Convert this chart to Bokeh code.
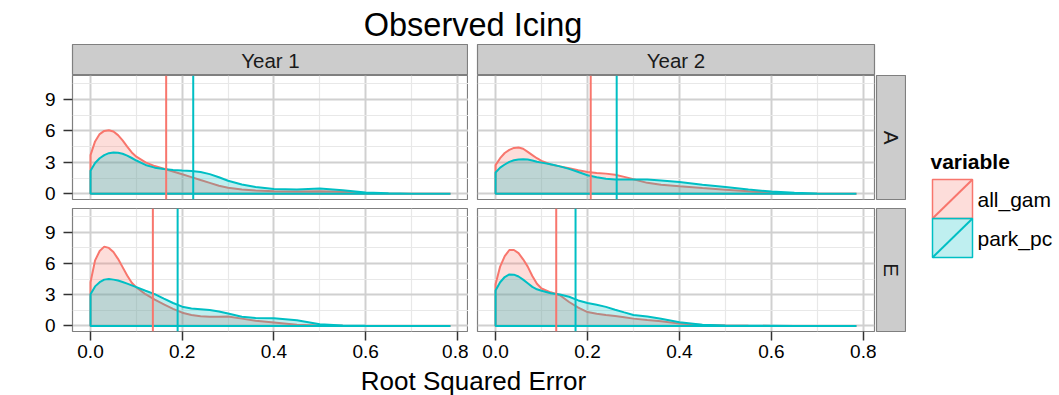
import numpy as np
from bokeh.plotting import figure
from bokeh.models import Range1d, FixedTicker, LinearAxis, Grid, NumeralTickFormatter, Span, Spacer
from bokeh.layouts import row, column
from bokeh.embed import file_html
from bokeh.resources import INLINE
from bokeh.core.properties import value

# ---------------- data ----------------
rse = [0.0, 0.01, 0.02, 0.03, 0.04, 0.05, 0.06, 0.07, 0.08, 0.09, 0.10, 0.12, 0.14,
       0.16, 0.18, 0.20, 0.22, 0.24, 0.26, 0.28, 0.30, 0.33, 0.36, 0.40, 0.45,
       0.50, 0.55, 0.60, 0.65, 0.70, 0.785]
years = ["Year 1", "Year 2"]
stations = ["A", "E"]
variables = ["all_gam", "park_pc"]

dens_y1_a_all_gam = [3.7, 5.0, 5.7, 6.0, 6.07, 5.95, 5.6, 5.1, 4.5, 3.95, 3.55, 3.0, 2.65,
                     2.4, 2.13, 1.87, 1.6, 1.32, 1.05, 0.78, 0.58, 0.42, 0.33, 0.26, 0.22,
                     0.25, 0.2, 0.06, 0.02, 0.01, 0.0]
dens_y1_a_park_pc = [2.2, 2.95, 3.4, 3.7, 3.88, 3.95, 3.92, 3.82, 3.65, 3.42, 3.18, 2.76, 2.5,
                     2.37, 2.28, 2.22, 2.17, 2.08, 1.88, 1.58, 1.25, 0.9, 0.65, 0.46, 0.42,
                     0.5, 0.35, 0.13, 0.05, 0.02, 0.0]
dens_y2_a_all_gam = [2.74, 3.4, 3.9, 4.2, 4.38, 4.42, 4.3, 4.0, 3.7, 3.4, 3.15, 2.8, 2.62,
                     2.45, 2.25, 2.08, 1.98, 1.93, 1.82, 1.62, 1.4, 1.05, 0.86, 0.72, 0.55,
                     0.4, 0.25, 0.12, 0.04, 0.01, 0.0]
dens_y2_a_park_pc = [2.04, 2.5, 2.8, 3.05, 3.2, 3.28, 3.31, 3.27, 3.18, 3.06, 2.98, 2.82, 2.62,
                     2.38, 2.08, 1.78, 1.58, 1.45, 1.38, 1.37, 1.37, 1.37, 1.28, 1.12, 0.88,
                     0.65, 0.42, 0.22, 0.1, 0.03, 0.0]
dens_y1_e_all_gam = [4.2, 6.3, 7.2, 7.62, 7.5, 7.1, 6.45, 5.65, 4.85, 4.15, 3.7, 3.05, 2.52,
                     2.08, 1.64, 1.27, 1.05, 0.93, 0.87, 0.88, 0.9, 0.7, 0.5, 0.33, 0.1,
                     0.03, 0.01, 0.0, 0.0, 0.0, 0.0]
dens_y1_e_park_pc = [3.05, 3.8, 4.2, 4.45, 4.5, 4.45, 4.36, 4.22, 4.07, 3.9, 3.73, 3.38, 3.05,
                     2.62, 2.2, 1.85, 1.67, 1.6, 1.52, 1.38, 1.2, 0.88, 0.75, 0.74, 0.55,
                     0.15, 0.04, 0.01, 0.0, 0.0, 0.0]
dens_y2_e_all_gam = [4.0, 5.7, 6.7, 7.3, 7.3, 7.0, 6.4, 5.7, 4.8, 4.05, 3.6, 3.23, 2.95,
                     2.3, 1.75, 1.33, 1.17, 1.05, 0.95, 0.84, 0.7, 0.57, 0.45, 0.22, 0.08,
                     0.03, 0.01, 0.0, 0.0, 0.0, 0.0]
dens_y2_e_park_pc = [3.4, 4.2, 4.7, 4.95, 4.93, 4.75, 4.45, 4.1, 3.75, 3.52, 3.38, 3.14, 3.02,
                     2.8, 2.45, 2.2, 2.03, 1.83, 1.56, 1.3, 1.05, 0.9, 0.68, 0.35, 0.12,
                     0.05, 0.02, 0.01, 0.0, 0.0, 0.0]

# mean root squared error per panel: [all_gam, park_pc]
mean_y1_a = [0.165, 0.224]
mean_y2_a = [0.207, 0.2635]
mean_y1_e = [0.136, 0.190]
mean_y2_e = [0.132, 0.174]

x_ticks = [0.0, 0.2, 0.4, 0.6, 0.8]
x_minor = [0.1, 0.3, 0.5, 0.7]
y_ticks = [0, 3, 6, 9]
y_minor = [1.5, 4.5, 7.5, 10.5]
y_top = 10.75  # upper data limit of the shared y scale

# ---------------- style ----------------
FONT = "Liberation Sans"
RED = "#F8766D"
CYAN = "#00BFC4"
GREY50 = "#7F7F7F"
GREY80 = "#CCCCCC"
MAJOR = "#D0D0D0"
MINOR = "#E8E8E8"

xr = np.array(rse)
x_span = xr.max() - xr.min()
X_LO, X_HI = xr.min() - 0.05 * x_span, xr.max() + 0.05 * x_span
Y_LO, Y_HI = 0 - 0.05 * y_top, y_top + 0.05 * y_top

COL_LEFT = [72, 9]
COL_RIGHT = [0, 2]
COL_FW = [396, 397]
ROW_FH = [124, 123]
ROW_BOTTOM = [9, 35]
XLAB_H = 29


def base_fig(width, height, **kw):
    p = figure(width=width, height=height, toolbar_location=None, output_backend="svg",
               x_axis_location=None, y_axis_location=None, **kw)
    p.grid.visible = False
    return p


def make_panel(c, r, dens_red, dens_cyan, means):
    left, right, fw = COL_LEFT[c], COL_RIGHT[c], COL_FW[c]
    fh, bottom = ROW_FH[r], ROW_BOTTOM[r]
    p = base_fig(left + fw + right, fh + bottom,
                 x_range=Range1d(X_LO, X_HI), y_range=Range1d(Y_LO, Y_HI),
                 min_border_left=left, min_border_right=right,
                 min_border_top=0, min_border_bottom=bottom,
                 outline_line_color=GREY50, outline_line_width=1.2,
                 background_fill_color="white", border_fill_color="white")
    p.add_layout(Grid(dimension=0, ticker=FixedTicker(ticks=x_ticks, minor_ticks=x_minor),
                      grid_line_color=MAJOR, grid_line_width=2,
                      minor_grid_line_color=MINOR, minor_grid_line_width=1.2))
    p.add_layout(Grid(dimension=1, ticker=FixedTicker(ticks=y_ticks, minor_ticks=y_minor),
                      grid_line_color=MAJOR, grid_line_width=2,
                      minor_grid_line_color=MINOR, minor_grid_line_width=1.2))
    for vals, colr in ((dens_red, RED), (dens_cyan, CYAN)):
        v = np.array(vals)
        xs = np.concatenate([xr, [xr[-1], xr[0]]])
        ys = np.concatenate([v, [0.0, 0.0]])
        p.patch(xs, ys, fill_color=colr, fill_alpha=0.25, line_color=colr, line_width=2)
    for m, colr in zip(means, (RED, CYAN)):
        p.add_layout(Span(location=m, dimension="height", line_color=colr, line_width=2))
    if c == 0:
        ax = LinearAxis(ticker=FixedTicker(ticks=y_ticks),
                        axis_line_color=None, major_tick_in=0, major_tick_out=9,
                        major_tick_line_color="#333333", major_tick_line_width=1.5,
                        minor_tick_line_color=None, major_label_standoff=8,
                        major_label_text_font=FONT, major_label_text_font_size="19px",
                        major_label_text_color="#000000")
        p.add_layout(ax, "left")
    if r == 1:
        ax = LinearAxis(ticker=FixedTicker(ticks=x_ticks),
                        formatter=NumeralTickFormatter(format="0.0"),
                        axis_line_color=None, major_tick_in=0, major_tick_out=9,
                        major_tick_line_color="#333333", major_tick_line_width=1.5,
                        minor_tick_line_color=None, major_label_standoff=4,
                        major_label_text_font=FONT, major_label_text_font_size="19px",
                        major_label_text_color="#000000")
        p.add_layout(ax, "below")
    return p


def strip_top(label, c):
    left, right, fw = COL_LEFT[c], COL_RIGHT[c], COL_FW[c]
    s = base_fig(left + fw + right, 31, x_range=Range1d(0, fw), y_range=Range1d(0, 31),
                 min_border_left=left, min_border_right=right, min_border_top=0,
                 min_border_bottom=0, background_fill_color=GREY80,
                 outline_line_color=GREY50, outline_line_width=1.2, border_fill_color="white")
    s.text(x=[fw / 2], y=[15.2], text=[label], text_align="center", text_baseline="middle",
           text_font=value(FONT), text_font_size="20.5px", text_color="#1A1A1A")
    return s


def strip_right(label, r):
    fh, bottom = ROW_FH[r], ROW_BOTTOM[r]
    s = base_fig(30, fh + bottom, x_range=Range1d(0, 30), y_range=Range1d(0, fh),
                 min_border_left=0, min_border_right=0, min_border_top=0,
                 min_border_bottom=bottom, background_fill_color=GREY80,
                 outline_line_color=GREY50, outline_line_width=1.2, border_fill_color="white")
    s.text(x=[14.5], y=[fh / 2], text=[label], angle=-np.pi / 2, text_align="center",
           text_baseline="middle", text_font=value(FONT), text_font_size="20.5px",
           text_color="#1A1A1A")
    return s


tl = make_panel(0, 0, dens_y1_a_all_gam, dens_y1_a_park_pc, mean_y1_a)
tr = make_panel(1, 0, dens_y2_a_all_gam, dens_y2_a_park_pc, mean_y2_a)
bl = make_panel(0, 1, dens_y1_e_all_gam, dens_y1_e_park_pc, mean_y1_e)
br = make_panel(1, 1, dens_y2_e_all_gam, dens_y2_e_park_pc, mean_y2_e)

s_y1 = strip_top(years[0], 0)
s_y2 = strip_top(years[1], 1)
s_a = strip_right(stations[0], 0)
s_e = strip_right(stations[1], 1)

# title
title_fig = base_fig(1059, 44, x_range=Range1d(0, 1059), y_range=Range1d(0, 44),
                     min_border=0, outline_line_color=None)
title_fig.text(x=[472.5], y=[19.5], text=["Observed Icing"], text_align="center",
               text_baseline="middle", text_font=value(FONT), text_font_size="32.5px",
               text_color="#000000")

# x axis title
xlab = base_fig(876, XLAB_H, x_range=Range1d(0, 876), y_range=Range1d(0, XLAB_H),
                min_border=0, outline_line_color=None)
xlab.text(x=[473], y=[14.5], text=["Root Squared Error"], text_align="center",
          text_baseline="middle", text_font=value(FONT), text_font_size="26px",
          text_color="#000000")

# legend
leg = base_fig(153, 351, x_range=Range1d(0, 153), y_range=Range1d(351, 0),
               min_border=0, outline_line_color=None)
KEY_L, KEY_W, KEY_T, KEY_H = 26, 40, 135, 39
leg.text(x=[24], y=[117.2], text=["variable"], text_align="left", text_baseline="middle",
         text_font=value(FONT), text_font_size="21px", text_font_style="bold",
         text_color="#000000")
for i, (name, colr) in enumerate(zip(variables, (RED, CYAN))):
    top = KEY_T + i * KEY_H
    leg.quad(left=[KEY_L], right=[KEY_L + KEY_W], top=[top], bottom=[top + KEY_H],
             fill_color=colr, fill_alpha=0.25, line_color=colr, line_width=1.5)
    leg.segment(x0=[KEY_L], y0=[top + KEY_H], x1=[KEY_L + KEY_W], y1=[top],
                line_color=colr, line_width=2)
    leg.text(x=[KEY_L + KEY_W + 5], y=[top + KEY_H / 2 + 0.9], text=[name], text_align="left",
             text_baseline="middle", text_font=value(FONT), text_font_size="21px",
             text_color="#000000")

left_block = column(row(s_y1, s_y2, spacing=0), row(tl, tr, spacing=0),
                    row(bl, br, spacing=0), xlab, spacing=0)
rstrip_col = column(Spacer(width=30, height=31), s_a, s_e, Spacer(width=30, height=XLAB_H),
                    spacing=0)
layout = column(title_fig, row(left_block, rstrip_col, leg, spacing=0), spacing=0)

open("out.html", "w").write(file_html(layout, INLINE))
